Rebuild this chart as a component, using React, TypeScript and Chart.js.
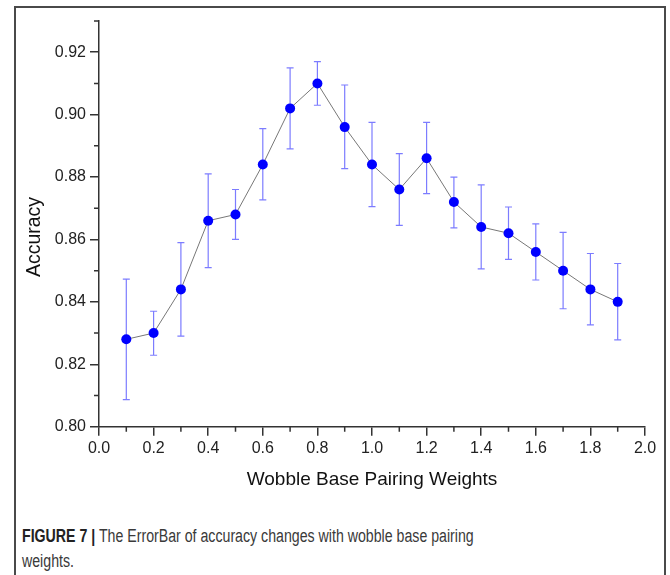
import React, { useEffect, useRef } from "react";
import { Chart, registerables } from "chart.js";

Chart.register(...registerables);

const weights = [0.1, 0.2, 0.3, 0.4, 0.5, 0.6, 0.7, 0.8, 0.9, 1.0, 1.1, 1.2, 1.3, 1.4, 1.5, 1.6, 1.7, 1.8, 1.9];
const accuracy = [0.828, 0.830, 0.844, 0.866, 0.868, 0.884, 0.902, 0.910, 0.896, 0.884, 0.876, 0.886, 0.872, 0.864, 0.862, 0.856, 0.850, 0.844, 0.840];
const errorUpper = [0.8473, 0.837, 0.859, 0.881, 0.876, 0.8955, 0.915, 0.917, 0.9095, 0.8975, 0.8875, 0.8975, 0.880, 0.8775, 0.8704, 0.865, 0.8623, 0.8555, 0.8523];
const errorLower = [0.8087, 0.8229, 0.829, 0.851, 0.860, 0.8727, 0.889, 0.903, 0.8827, 0.8705, 0.8645, 0.8747, 0.8637, 0.8506, 0.8536, 0.847, 0.8378, 0.8326, 0.8278];
const xTicks = [0.0, 0.2, 0.4, 0.6, 0.8, 1.0, 1.2, 1.4, 1.6, 1.8, 2.0];
const xMinorTicks = [0.1, 0.3, 0.5, 0.7, 0.9, 1.1, 1.3, 1.5, 1.7, 1.9];
const yTicks = [0.80, 0.82, 0.84, 0.86, 0.88, 0.90, 0.92];
const yMinorTicks = [0.81, 0.83, 0.85, 0.87, 0.89, 0.91, 0.93];
const yTitle = "Accuracy";
const xTitle = "Wobble Base Pairing Weights";

const errorBarPlugin = {
  id: "errorBars",
  beforeDatasetsDraw(chart: any) {
    const { ctx, scales } = chart;
    const xs = scales.x;
    const ys = scales.y;
    ctx.save();
    ctx.strokeStyle = "rgba(80,80,255,0.75)";
    ctx.lineWidth = 1.2;
    weights.forEach((w, i) => {
      const px = xs.getPixelForValue(w);
      const top = ys.getPixelForValue(errorUpper[i]);
      const bot = ys.getPixelForValue(errorLower[i]);
      ctx.beginPath();
      ctx.moveTo(px, top);
      ctx.lineTo(px, bot);
      ctx.moveTo(px - 3.5, top);
      ctx.lineTo(px + 3.5, top);
      ctx.moveTo(px - 3.5, bot);
      ctx.lineTo(px + 3.5, bot);
      ctx.stroke();
    });
    ctx.restore();
  },
};

const minorTickPlugin = {
  id: "minorTicks",
  afterDraw(chart: any) {
    const { ctx, scales, chartArea } = chart;
    ctx.save();
    ctx.strokeStyle = "#333";
    ctx.lineWidth = 1.5;
    ctx.beginPath();
    xMinorTicks.forEach((v) => {
      const px = scales.x.getPixelForValue(v);
      ctx.moveTo(px, chartArea.bottom);
      ctx.lineTo(px, chartArea.bottom + 5);
    });
    yMinorTicks.forEach((v) => {
      const py = scales.y.getPixelForValue(v);
      ctx.moveTo(chartArea.left, py);
      ctx.lineTo(chartArea.left - 5, py);
    });
    ctx.stroke();
    // y axis title (placed like the reference, slightly below the axis centre)
    ctx.translate(35, 237);
    ctx.rotate(-Math.PI / 2);
    ctx.fillStyle = "#111";
    ctx.font = "19.5px 'Liberation Sans', Arial, sans-serif";
    ctx.textAlign = "center";
    ctx.textBaseline = "middle";
    ctx.fillText(yTitle, 0, 0);
    ctx.restore();
  },
};

export default function App() {
  const canvasRef = useRef<HTMLCanvasElement | null>(null);

  useEffect(() => {
    if (!canvasRef.current) return;
    const chart = new Chart(canvasRef.current, {
      type: "scatter",
      data: {
        datasets: [
          {
            data: weights.map((w, i) => ({ x: w, y: accuracy[i] })),
            showLine: true,
            borderColor: "#777",
            borderWidth: 1,
            pointBackgroundColor: "#0000ff",
            pointBorderColor: "#0000ff",
            pointRadius: 5,
            pointBorderWidth: 0,
          },
        ],
      },
      options: {
        animation: false,
        responsive: false,
        maintainAspectRatio: false,
        layout: { padding: { left: 0, right: 25, top: 21, bottom: 0 } },
        plugins: { legend: { display: false }, tooltip: { enabled: false } },
        scales: {
          x: {
            type: "linear",
            min: 0,
            max: 2,
            afterFit(scale: any) {
              scale.height = 73.3;
            },
            afterBuildTicks(scale: any) {
              scale.ticks = xTicks.map((v) => ({ value: v }));
            },
            ticks: {
              font: { family: "Liberation Sans, Arial, sans-serif", size: 16 },
              color: "#222",
              padding: 3,
              callback: (v: any) => Number(v).toFixed(1),
            },
            grid: { drawOnChartArea: false, drawTicks: true, tickLength: 9, color: "#333", lineWidth: 1.5 },
            border: { display: true, color: "#333", width: 1.5 },
            title: {
              display: true,
              text: xTitle,
              font: { family: "Liberation Sans, Arial, sans-serif", size: 19 },
              color: "#111",
              padding: { top: 0, bottom: 9 },
            },
          },
          y: {
            type: "linear",
            min: 0.8,
            max: 0.93,
            afterFit(scale: any) {
              scale.width = 99;
            },
            afterBuildTicks(scale: any) {
              scale.ticks = yTicks.map((v) => ({ value: v }));
            },
            ticks: {
              font: { family: "Liberation Sans, Arial, sans-serif", size: 16 },
              color: "#222",
              padding: 4,
              callback: (v: any) => Number(v).toFixed(2),
            },
            grid: { drawOnChartArea: false, drawTicks: true, tickLength: 9, color: "#333", lineWidth: 1.5 },
            border: { display: true, color: "#333", width: 1.5 },
            title: { display: false },
          },
        },
      },
      plugins: [errorBarPlugin, minorTickPlugin],
    });
    return () => chart.destroy();
  }, []);

  return (
    <div style={{ position: "fixed", left: 0, top: 0, width: 670, height: 575, background: "#fff", overflow: "hidden" }}>
      <div
        style={{
          position: "absolute",
          left: 14,
          top: 6,
          width: 652,
          height: 600,
          border: "2px solid #4a4a4a",
          borderBottom: "none",
          boxSizing: "border-box",
        }}
      />
      <canvas ref={canvasRef} width={670} height={500} style={{ position: "absolute", left: 0, top: 0, width: 670, height: 500 }} />
      <div
        style={{
          position: "absolute",
          left: 22,
          top: 524,
          width: 800,
          fontFamily: "Liberation Sans, Arial, sans-serif",
          fontSize: 18,
          lineHeight: "25px",
          color: "#3a3a3a",
          transform: "scaleX(0.787)",
          transformOrigin: "0 0",
        }}
      >
        <div>
          <b style={{ color: "#222" }}>FIGURE 7 |</b> The ErrorBar of accuracy changes with wobble base pairing
        </div>
        <div>weights.</div>
      </div>
    </div>
  );
}
